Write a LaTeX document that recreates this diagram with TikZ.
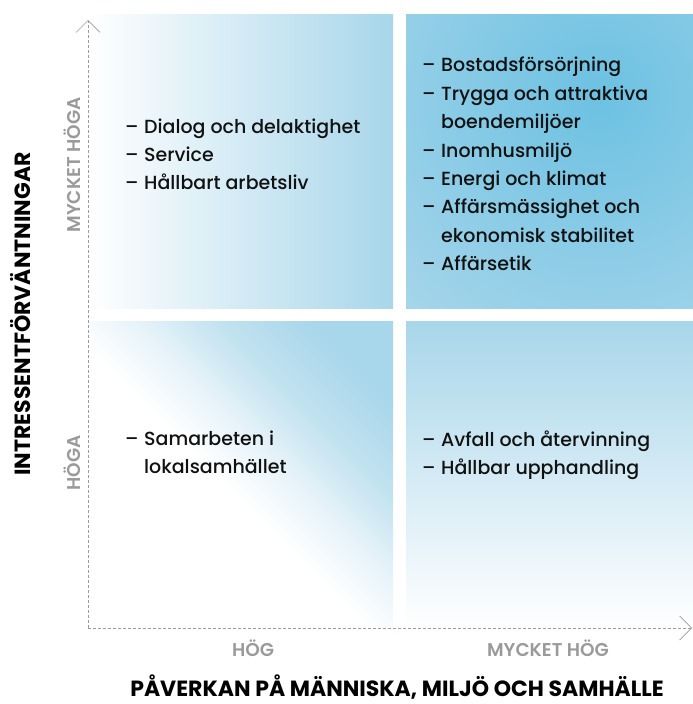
\documentclass[tikz,border=0pt]{standalone}
\usepackage{fontspec}
\setmainfont{Poppins}[UprightFont=* Medium, BoldFont=* Bold]
\newfontfamily\semib{Poppins}[UprightFont=* SemiBold]
\usetikzlibrary{arrows.meta}
\definecolor{qlight}{HTML}{A8D6EA}
\definecolor{qdark}{HTML}{6CC1E2}
\definecolor{axisgray}{HTML}{9B9B9B}
\definecolor{labgray}{HTML}{9A9A9A}
\definecolor{txt}{HTML}{111111}
\colorlet{qfaint}{qlight!30!white}
\colorlet{qhalf}{qlight!70!white}
\pgfdeclarehorizontalshading{diagBL}{100bp}{color(0bp)=(white); color(47bp)=(white); color(56bp)=(qfaint); color(65bp)=(qhalf); color(76bp)=(qlight); color(100bp)=(qlight)}
\begin{document}
\begin{tikzpicture}[x=1pt,y=-1pt,
  axisline/.style={draw=axisgray, line width=0.7pt, dash pattern=on 3pt off 2pt},
  tipstyle/.style={-{Straight Barb[length=12pt,width=24pt,line width=0.7pt]}},
  itemlist/.style={anchor=north west, align=left, inner sep=0pt, text=txt,
    font=\fontsize{19}{28}\selectfont},
  graylab/.style={text=labgray, font=\fontsize{18.5}{18.5}\selectfont\semib, inner sep=0pt},
  titlelab/.style={text=black, font=\fontsize{22}{22}\selectfont\bfseries, inner sep=0pt}
]
\useasboundingbox (0,0) rectangle (693,704);
\newcommand{\itm}{\makebox[19pt][l]{–}}
\newcommand{\cnt}{\hspace*{19pt}}
% quadrants
\shade[left color=white, right color=qlight] (88,14) rectangle (393,308);
\begin{scope}
  \clip (406,14) rectangle (693,308);
  \shade[inner color=qdark, outer color=qlight] (600,95) circle (300);
\end{scope}
\shade[shading=diagBL, shading angle=45] (88,321) rectangle (393,628);
\shade[top color=qlight, bottom color=white] (406,321) rectangle (693,628);
% axes
\coordinate (O) at (88,628);
\coordinate (ytip) at (88,20);
\coordinate (xtip) at (692,628);
\draw[axisline, tipstyle] (O) -- (ytip);
\draw[axisline, tipstyle] (O) -- (xtip);
% lists
\node[itemlist] (tl) at (125,119) {\itm Dialog och delaktighet\\ \itm Service\\ \itm Hållbart arbetsliv};
\node[itemlist, font=\fontsize{19}{28.4}\selectfont] (tr) at (422,57) {\itm Bostadsförsörjning\\ \itm Trygga och attraktiva\\ \cnt boendemiljöer\\ \itm Inomhusmiljö\\ \itm Energi och klimat\\ \itm Affärsmässighet och\\ \cnt ekonomisk stabilitet\\ \itm Affärsetik};
\node[itemlist] (bl) at (125,431) {\itm Samarbeten i\\ \cnt lokalsamhället};
\node[itemlist] (br) at (422,431) {\itm Avfall och återvinning\\ \itm Hållbar upphandling};
% labels
\node[graylab, rotate=90] (ymh) at (72,165) {MYCKET HÖGA};
\node[graylab, rotate=90] (yh) at (72,463) {HÖGA};
\node[graylab] (xh) at (253,648) {HÖG};
\node[graylab] (xmh) at (548,648) {MYCKET HÖG};
\node[titlelab, rotate=90] (ytitle) at (21,314) {INTRESSENTFÖRVÄNTNINGAR};
\node[titlelab, anchor=base] (xtitle) at (397,696) {PÅVERKAN PÅ MÄNNISKA, MILJÖ OCH SAMHÄLLE};
\end{tikzpicture}
\end{document}
